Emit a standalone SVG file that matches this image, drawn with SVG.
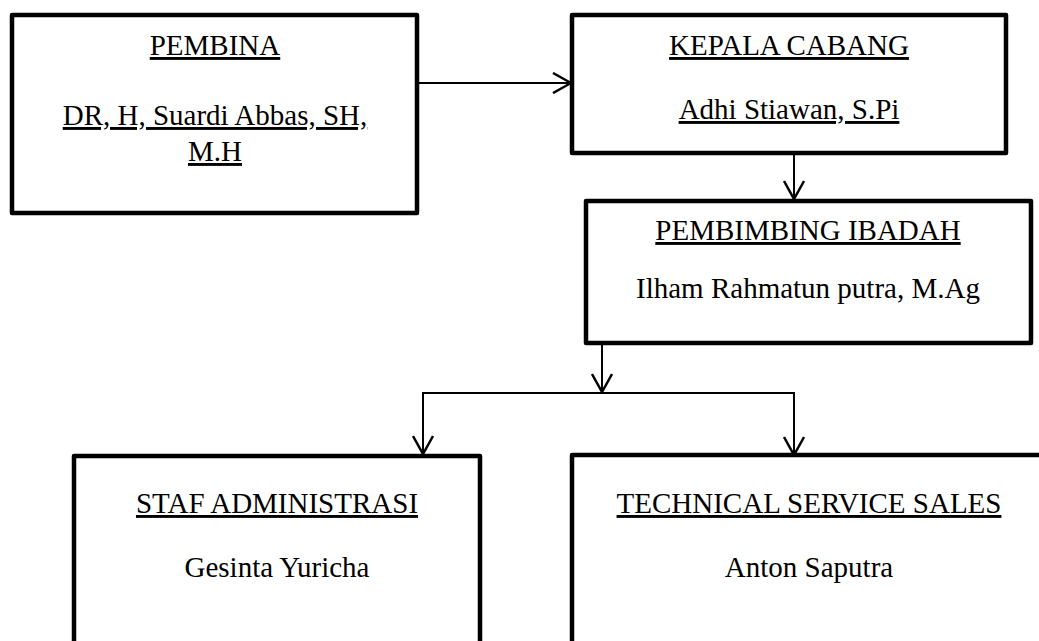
<svg xmlns="http://www.w3.org/2000/svg" width="1039" height="641" viewBox="0 0 1039 641">
<style>
.box{fill:#fff;stroke:#000;stroke-width:4.5;stroke-linejoin:round}
.t{font-family:"Liberation Serif","Times New Roman",serif;font-size:29px;fill:#000;text-anchor:middle}
.u{text-decoration:underline;text-decoration-skip-ink:none;text-decoration-thickness:2px;text-underline-offset:3px}
.c{fill:none;stroke:#000;stroke-width:2}
</style>
<defs>
<marker id="arr" viewBox="0 0 20 22" refX="19" refY="11" markerWidth="20" markerHeight="22" markerUnits="userSpaceOnUse" orient="auto">
<path d="M1,1 L19,11 L1,21" fill="none" stroke="#000" stroke-width="2.5"/>
</marker>
</defs>
<rect width="1039" height="641" fill="#fff"/>
<g id="connectors">
<line class="c" x1="417" y1="83" x2="571" y2="83" marker-end="url(#arr)"/>
<line class="c" x1="794" y1="153" x2="794" y2="199" marker-end="url(#arr)"/>
<line class="c" x1="602" y1="343" x2="602" y2="392" marker-end="url(#arr)"/>
<polyline class="c" points="423,455 423,393 794,393 794,455" marker-end="url(#arr)"/>
<line class="c" x1="423" y1="400" x2="423" y2="454" marker-end="url(#arr)"/>
</g>
<g id="pembina">
<rect class="box" x="12" y="15" width="405" height="198"/>
<text class="t u" x="215" y="55">PEMBINA</text>
<text class="t u" x="215" y="125">DR, H, Suardi Abbas, SH,</text>
<text class="t u" x="215" y="161">M.H</text>
</g>
<g id="kepala-cabang">
<rect class="box" x="572" y="15" width="434" height="138"/>
<text class="t u" x="789" y="55">KEPALA CABANG</text>
<text class="t u" x="789" y="119">Adhi Stiawan, S.Pi</text>
</g>
<g id="pembimbing-ibadah">
<rect class="box" x="586" y="201" width="445" height="142"/>
<text class="t u" x="808" y="240">PEMBIMBING IBADAH</text>
<text class="t" x="808" y="298">Ilham Rahmatun putra, M.Ag</text>
</g>
<g id="staf-administrasi">
<rect class="box" x="74" y="456" width="406" height="210"/>
<text class="t u" x="277" y="513">STAF ADMINISTRASI</text>
<text class="t" x="277" y="577">Gesinta Yuricha</text>
</g>
<g id="technical-service-sales">
<rect class="box" x="572" y="455" width="474" height="210"/>
<text class="t u" x="809" y="513">TECHNICAL SERVICE SALES</text>
<text class="t" x="809" y="577">Anton Saputra</text>
</g>
</svg>
